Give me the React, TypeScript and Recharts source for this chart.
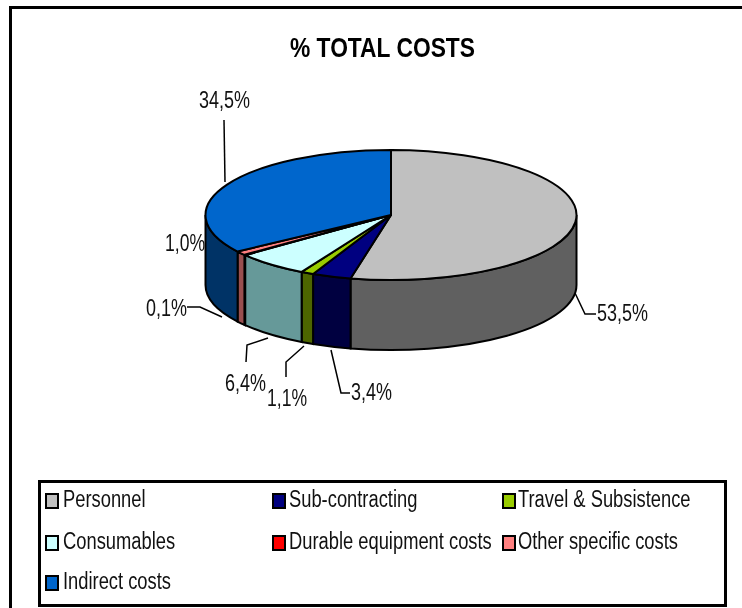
import React from 'react'
import { Legend, Pie, PieChart } from 'recharts'

const categories = ['Personnel', 'Sub-contracting', 'Travel & Subsistence', 'Consumables', 'Durable equipment costs', 'Other specific costs', 'Indirect costs']
const shares = [53.5, 3.4, 1.1, 6.4, 0.1, 1.0, 34.5]
const topColors = ['#C0C0C0', '#000080', '#99CC00', '#CCFFFF', '#FF0000', '#FF8080', '#0066CC']
const wallColors = ['#606060', '#000040', '#4D6600', '#669999', '#800000', '#995050', '#003366']

const tableData = categories.map((name, i) => ({ name, value: shares[i], fill: topColors[i] }))

const RX = 185.5
const RY = 65
const DEPTH = 70

// leader lines and label spots, same order as the categories
const labelSpots = [
    { x: 597, y: 321, w: 51, line: '575,293 585,314 596,314' },
    { x: 351, y: 400, w: 41, line: '331,350 341,393 350,393' },
    { x: 267, y: 406, w: 40, line: '304,346 286,362 286,377' },
    { x: 225, y: 391, w: 41, line: '268,338 247,345 246,362' },
    { x: 146, y: 316, w: 41, line: '222,317 200,307 187,307' },
    { x: 165, y: 251, w: 40, line: '' },
    { x: 199, y: 108, w: 51, line: '225,182 224,120' },
]

const legendSpots = [
    { x: 45, text: 63, y: 493, base: 507 }, { x: 272, text: 289, y: 493, base: 507 }, { x: 502, text: 518, y: 493, base: 507 },
    { x: 45, text: 63, y: 535, base: 549 }, { x: 272, text: 289, y: 535, base: 549 }, { x: 502, text: 518, y: 535, base: 549 },
    { x: 45, text: 63, y: 575, base: 589 },
]

const SliceShape = (props: any) => {
    const { cx, cy, startAngle, endAngle, fill, index } = props
    const pt = (a: number, dy = 0) => {
        const r = (a * Math.PI) / 180
        return `${cx + RX * Math.cos(r)} ${cy - RY * Math.sin(r) + dy}`
    }
    const large = Math.abs(startAngle - endAngle) > 180 ? 1 : 0
    const a0 = Math.min(startAngle, 0)
    const a1 = Math.max(endAngle, -180)
    return (
        <g>
            {a0 > a1 && (
                <path
                    d={`M${pt(a0)} A${RX} ${RY} 0 0 1 ${pt(a1)} L${pt(a1, DEPTH)} A${RX} ${RY} 0 0 0 ${pt(a0, DEPTH)} Z`}
                    fill={wallColors[index]}
                    stroke="#000"
                    strokeWidth={2}
                />
            )}
            <path
                d={`M${cx} ${cy} L${pt(startAngle)} A${RX} ${RY} 0 ${large} 1 ${pt(endAngle)} Z`}
                fill={fill}
                stroke="#000"
                strokeWidth={2}
            />
        </g>
    )
}

const renderLabel = (props: any) => {
    const spot = labelSpots[props.index]
    const text = shares[props.index].toFixed(1).replace('.', ',') + '%'
    return (
        <g key={props.index}>
            {spot.line && <polyline points={spot.line} fill="none" stroke="#000" strokeWidth={1.5} />}
            <text x={spot.x} y={spot.y} fontSize={24} fontFamily="Liberation Sans" fill="#111" textLength={spot.w} lengthAdjust="spacingAndGlyphs">
                {text}
            </text>
        </g>
    )
}

const LegendBox = ({ payload }: any) => (
    <div style={{ position: 'absolute', left: 38, top: 480, width: 683, height: 121, border: '3px solid #000', boxSizing: 'content-box' }}>
        {(payload || []).map((entry: any, i: number) => {
            const spot = legendSpots[i]
            return (
                <React.Fragment key={entry.value}>
                    <span style={{ position: 'absolute', left: spot.x - 41, top: spot.y - 483, width: 10, height: 12, background: entry.color, border: '2px solid #000' }} />
                    <span style={{ position: 'absolute', left: spot.text - 41, top: spot.base - 21.5 - 483, whiteSpace: 'nowrap', fontFamily: 'Liberation Sans', fontSize: 23.5, lineHeight: '26px', color: '#111', transform: 'scaleX(0.78)', transformOrigin: 'left center' }}>
                        {entry.value}
                    </span>
                </React.Fragment>
            )
        })}
    </div>
)

export default function App() {
    return (
        <div style={{ position: 'absolute', left: 0, top: 0, width: 742, height: 608, background: '#fff', overflow: 'hidden', filter: 'blur(0.7px)' }}>
            <div style={{ position: 'absolute', left: 9, top: 6, width: 760, height: 640, border: '3px solid #000' }} />
            <PieChart width={742} height={608} margin={{ top: 0, right: 0, bottom: 0, left: 0 }} style={{ position: 'absolute', left: 0, top: 0 }}>
                <text x={382.5} y={57} textAnchor="middle" fontSize={27} fontWeight="bold" fontFamily="Liberation Sans" fill="#000" textLength={185} lengthAdjust="spacingAndGlyphs">
                    % TOTAL COSTS
                </text>
                <Pie
                    data={tableData}
                    dataKey="value"
                    nameKey="name"
                    cx={391}
                    cy={215}
                    outerRadius={RX}
                    startAngle={90}
                    endAngle={-270}
                    stroke="#000"
                    shape={SliceShape}
                    label={renderLabel}
                    labelLine={false}
                    isAnimationActive={false}
                />
                <Legend content={LegendBox} itemSorter={null} wrapperStyle={{ position: 'absolute', left: 0, top: 0, width: 0, height: 0 }} />
            </PieChart>
        </div>
    )
}
